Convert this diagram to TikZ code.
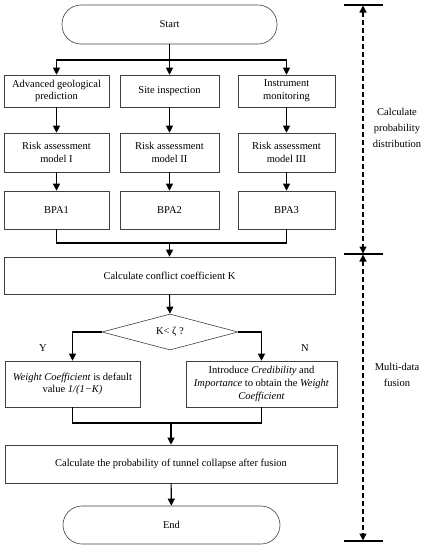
\documentclass[tikz,border=0pt]{standalone}
\usepackage{fontspec}
\setmainfont{Liberation Serif}
\usetikzlibrary{arrows.meta,shapes.geometric}
\begin{document}
\begin{tikzpicture}[x=1pt,y=-1pt,
  font=\fontsize{10.5}{12.8}\selectfont,
  box/.style={draw=black!75,line width=0.6pt,align=center,inner sep=1pt},
  term/.style={box,rounded corners=19pt},
  conn/.style={line width=1.1pt,black},
  arr/.style={conn,-{Triangle[length=7pt,width=7pt]}},
  dasharr/.style={line width=1.3pt,dash pattern=on 5pt off 3pt,{Triangle[length=7pt,width=7pt]}-{Triangle[length=7pt,width=7pt]}},
  bar/.style={line width=1.1pt}]
\useasboundingbox (0,0) rectangle (425,550);
\node[term,minimum width=215pt,minimum height=39pt] (start) at (169.5,24.5) {Start};
\node[box,minimum width=105pt,minimum height=32pt] (a1) at (56.5,91) {Advanced geological\\prediction};
\node[box,minimum width=99pt,minimum height=32pt] (a2) at (169.5,91) {Site inspection};
\node[box,minimum width=97pt,minimum height=32pt] (a3) at (286.5,91) {Instrument\\monitoring};
\node[box,minimum width=105pt,minimum height=39pt] (b1) at (56.5,152.5) {Risk assessment\\model I};
\node[box,minimum width=99pt,minimum height=39pt] (b2) at (169.5,152.5) {Risk assessment\\model II};
\node[box,minimum width=97pt,minimum height=39pt] (b3) at (286.5,152.5) {Risk assessment\\model III};
\node[box,minimum width=105pt,minimum height=38pt] (c1) at (56.5,210) {BPA1};
\node[box,minimum width=99pt,minimum height=38pt] (c2) at (169.5,210) {BPA2};
\node[box,minimum width=97pt,minimum height=38pt] (c3) at (286.5,210) {BPA3};
\node[box,minimum width=331pt,minimum height=37pt] (k) at (169.5,275.5) {Calculate conflict coefficient K};
\node[draw=black!75,line width=0.6pt,diamond,minimum width=136pt,minimum height=36pt,inner sep=0pt,aspect=3.8] (dia) at (170,332) {K< ζ ?};
\node[box,minimum width=135pt,minimum height=46pt] (wl) at (72.5,384) {\textit{Weight Coefficient} is default\\value \textit{1/(1−K)}};
\node[box,minimum width=151pt,minimum height=46pt] (wr) at (261.5,384) {Introduce \textit{Credibility} and\\\textit{Importance} to obtain the \textit{Weight}\\\textit{Coefficient}};
\node[box,minimum width=332pt,minimum height=38pt] (fin) at (171,464) {Calculate the probability of tunnel collapse after fusion};
\node[term,minimum width=217pt,minimum height=38pt] (end) at (171.5,525) {End};
\node (y) at (43,348) {Y};
\node (n) at (305,348) {N};
\coordinate (split) at (169.5,60);
\coordinate (m1) at (169.5,243);
\coordinate (m2) at (171,423);
\draw[conn] (start.south) -- (split);
\draw[arr] (split) -| (a1.north);
\draw[arr] (split) -| (a3.north);
\draw[arr] (split) -- (a2.north);
\draw[arr] (a1) -- (b1);
\draw[arr] (a2) -- (b2);
\draw[arr] (a3) -- (b3);
\draw[arr] (b1) -- (c1);
\draw[arr] (b2) -- (c2);
\draw[arr] (b3) -- (c3);
\draw[conn] (c1.south) |- (m1);
\draw[conn] (c3.south) |- (m1);
\draw[arr] (m1) -- (k.north);
\draw[arr] (k.south) -- (dia.north);
\draw[arr] (dia.west) -| (wl.north);
\draw[arr] (dia.east) -| (wr.north);
\draw[conn] (wl.south) |- (m2);
\draw[conn] (wr.south) |- (m2);
\draw[arr] (m2) -- (fin.north);
\draw[arr] (fin) -- (end);
% right side
\coordinate (t1) at (344,5); \coordinate (t2) at (383,5);
\coordinate (u1) at (344,254); \coordinate (u2) at (383,254);
\coordinate (v1) at (344,541); \coordinate (v2) at (383,541);
\coordinate (ta) at (363,5.5); \coordinate (ua) at (363,253.5);
\coordinate (ub) at (363,254.5); \coordinate (va) at (363,540.5);
\draw[bar] (t1) -- (t2);
\draw[bar] (u1) -- (u2);
\draw[bar] (v1) -- (v2);
\draw[dasharr] (ta) -- (ua);
\draw[dasharr] (ub) -- (va);
\node[align=center] (lab1) at (397,128) {Calculate\\[3pt]probability\\[3pt]distribution};
\node[align=center] (lab2) at (397,375) {Multi-data\\[3pt]fusion};
\end{tikzpicture}
\end{document}
